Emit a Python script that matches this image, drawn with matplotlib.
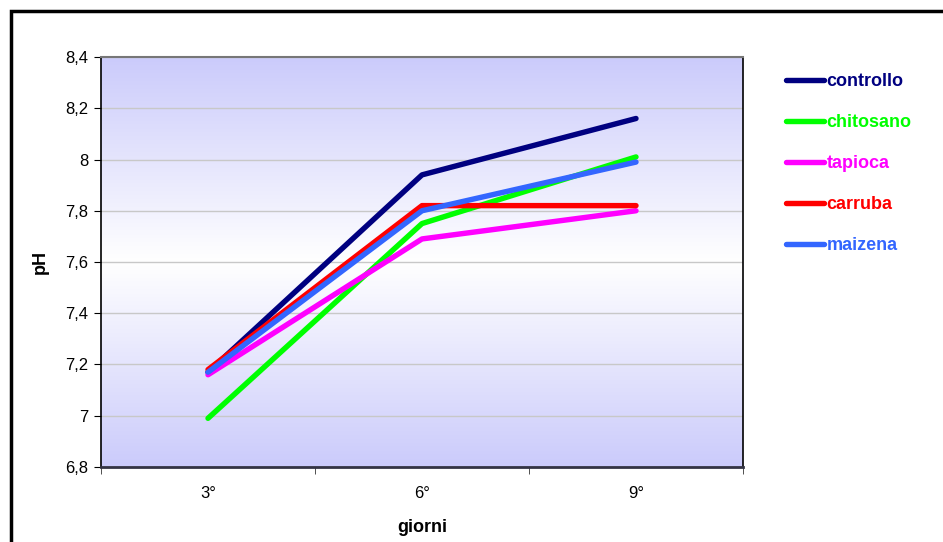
import numpy as np
import matplotlib
matplotlib.use("Agg")
import matplotlib.pyplot as plt
from matplotlib.colors import LinearSegmentedColormap
from matplotlib.patches import Rectangle

plt.rcParams['font.family'] = ['Liberation Sans', 'DejaVu Sans']

days = ['3°', '6°', '9°']
controllo = [7.17, 7.94, 8.16]
chitosano = [6.99, 7.75, 8.01]
tapioca = [7.16, 7.69, 7.80]
carruba = [7.18, 7.82, 7.82]
maizena = [7.17, 7.80, 7.99]

series = [
    ('controllo', controllo, '#000080'),
    ('chitosano', chitosano, '#00FF00'),
    ('tapioca', tapioca, '#FF00FF'),
    ('carruba', carruba, '#FF0000'),
    ('maizena', maizena, '#3366FF'),
]
y_ticks = [6.8, 7.0, 7.2, 7.4, 7.6, 7.8, 8.0, 8.2, 8.4]
y_labels = ['6,8', '7', '7,2', '7,4', '7,6', '7,8', '8', '8,2', '8,4']

W, H = 943, 542
fig = plt.figure(figsize=(W / 100, H / 100), dpi=100)
ax = fig.add_axes([101 / W, 1 - 467 / H, (743 - 101) / W, (467 - 57) / H])

# outer chart frame (cut off at right and bottom like the source)
fig.patches.append(Rectangle((11 / W, -0.05), 1.2, 1 - 11 / H + 0.05,
                             transform=fig.transFigure, fill=False,
                             edgecolor='black', linewidth=2.5))

# lavender -> white -> lavender background
cmap = LinearSegmentedColormap.from_list('bg', ['#CBCBFB', '#FFFFFF', '#CBCBFB'])
grad = np.linspace(0, 1, 256).reshape(-1, 1)
ax.imshow(grad, cmap=cmap, aspect='auto', extent=[0, 1, 0, 1],
          transform=ax.transAxes, zorder=0)

x = np.arange(len(days))
for name, vals, col in series:
    ax.plot(x, vals, color=col, linewidth=3.9, solid_capstyle='round',
            label=name, zorder=3)

ax.set_xlim(-0.5, len(days) - 0.5)
ax.set_ylim(6.8, 8.4)
ax.set_yticks(y_ticks)
ax.set_yticklabels(y_labels)
ax.set_xticks(x)
ax.set_xticklabels(days)
ax.set_xticks(np.arange(len(days) + 1) - 0.5, minor=True)
ax.tick_params(axis='x', which='major', length=0, pad=14, labelsize=12)
ax.tick_params(axis='x', which='minor', length=5, color='#333333')
ax.tick_params(axis='y', length=5, labelsize=12, pad=4)
ax.grid(axis='y', color='#C8C8C8', linewidth=1, zorder=1)
ax.set_axisbelow(True)

for side in ['left', 'right']:
    ax.spines[side].set_color('black')
    ax.spines[side].set_linewidth(1.2)
ax.spines['top'].set_color('#777777')
ax.spines['top'].set_linewidth(1.5)
ax.spines['bottom'].set_color('#333344')
ax.spines['bottom'].set_linewidth(2)

ax.set_xlabel('giorni', fontsize=13, fontweight='bold', labelpad=13)
ax.set_ylabel('pH', fontsize=13, fontweight='bold', labelpad=12)

leg = ax.legend(loc='upper left', bbox_to_anchor=(770 / W, 1 - 57 / H),
                bbox_transform=fig.transFigure, frameon=False,
                handlelength=2.1, handletextpad=0.12, labelspacing=1.33,
                prop={'size': 13, 'weight': 'bold'})
for txt, (_, _, col) in zip(leg.get_texts(), series):
    txt.set_color(col)

fig.savefig('out.png', dpi=100)
